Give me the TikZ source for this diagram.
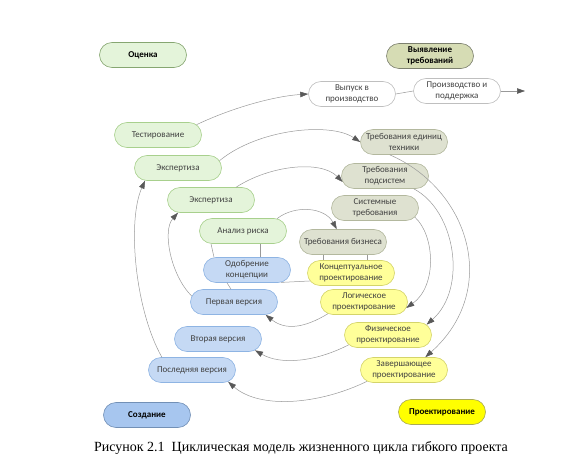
\documentclass[tikz,border=0pt]{standalone}
\usepackage{fontspec}
\setmainfont{Carlito}
\newfontfamily\capfont{Liberation Serif}
\usetikzlibrary{arrows.meta,shapes.misc}
\definecolor{grfill}{HTML}{E4F4DA}
\definecolor{grline}{HTML}{A8D08D}
\definecolor{olfill}{HTML}{DEE1D0}
\definecolor{olline}{HTML}{B3B89E}
\definecolor{olhead}{HTML}{D6DCB4}
\definecolor{blfill}{HTML}{C5D9F4}
\definecolor{blline}{HTML}{8EB4E3}
\definecolor{blhead}{HTML}{A7C6EF}
\definecolor{yefill}{HTML}{FFFF99}
\definecolor{yeline}{HTML}{D4D46A}
\definecolor{yehead}{HTML}{FFFF00}
\begin{document}
\begin{tikzpicture}[x=1pt,y=1pt, every node/.style={rounded rectangle,draw,line width=0.6pt,minimum width=90pt,minimum height=25pt,inner sep=1.5pt,align=center,font=\fontsize{9}{11}\selectfont,text=black!75},
  gr/.style={fill=grfill,draw=grline}, ol/.style={fill=olfill,draw=olline},
  bl/.style={fill=blfill,draw=blline}, ye/.style={fill=yefill,draw=yeline},
  wh/.style={fill=white,draw=black!25},
  head/.style={text=black,font=\fontsize{9}{11}\selectfont\bfseries},
  con/.style={draw=black!40,line width=0.5pt},
  arr/.style={con,-{Triangle[length=8pt,width=5.5pt,color=black!65]}}]
\useasboundingbox (0,0) rectangle (584,-460);
     \node[gr,head,draw=grline!80!black] (ev) at (143,-55) {Оценка};
     \node[ol,head,fill=olhead,draw=olline!70!black] (rq) at (430,-56) {Выявление\\требований};
     \node[bl,head,fill=blhead,draw=blline!80!black] (cr) at (147,-415) {Создание};
     \node[ye,head,fill=yehead,draw=yeline!80!black] (ds) at (442,-412) {Проектирование};
     \node[wh] (w1) at (352,-94) {Выпуск в\\производство};
     \node[wh] (w2) at (457,-91) {Производство и\\поддержка};
     \node[gr] (g1) at (158,-135) {Тестирование};
     \node[gr] (g2) at (178,-168) {Экспертиза};
     \node[gr] (g3) at (211,-200) {Экспертиза};
     \node[gr] (g4) at (243,-231) {Анализ риска};
     \node[ol] (o1) at (404,-142) {Требования единиц\\техники};
     \node[ol] (o2) at (385,-176) {Требования\\подсистем};
     \node[ol] (o3) at (375,-208) {Системные\\требования};
     \node[ol] (o4) at (343,-242) {Требования бизнеса};
     \node[ye] (y1) at (351,-273) {Концептуальное\\проектирование};
     \node[ye] (y2) at (364,-302) {Логическое\\проектирование};
     \node[ye] (y3) at (388,-335) {Физическое\\проектирование};
     \node[ye] (y4) at (404,-370) {Завершающее\\проектирование};
     \node[bl] (b1) at (247,-270) {Одобрение\\концепции};
     \node[bl] (b2) at (234,-302) {Первая версия};
     \node[bl] (b3) at (218,-339) {Вторая версия};
     \node[bl] (b4) at (192,-370) {Последняя версия};
     \node[draw=none,text=black,font=\capfont\fontsize{14}{16}\selectfont] (cap) at (301,-448) {Рисунок 2.1~ Циклическая модель жизненного цикла гибкого проекта};
     \coordinate (out) at (525,-91);
\draw[arr] (g1.15) .. controls +(38,18) and +(-32,-2) .. (w1.west);
\draw[con] (w1.east) -- (w2.west);
\draw[arr] (w2.east) -- (out);
\draw[arr] (g2.10) .. controls +(39,32) and +(-30,20) .. (o1.west);
\draw[arr] (g3.27) .. controls +(34,22) and +(-22,22) .. (o2.188);
\draw[arr] (g4.20) .. controls +(18,14) and +(-12,22) .. (o4.116);
\draw[arr] (o1.222) .. controls +(80,-35) and +(75,67) .. (y4.31);
\draw[arr] (o2.-24) .. controls +(42,-22) and +(41,36) .. (y3.15);
\draw[arr] (o3.-13) .. controls +(20,-18) and +(31,22) .. (y2.-8);
\draw[con] ([xshift=-20pt]o4.south) -- ([xshift=-28pt]y1.north);
\draw[con] ([xshift=24pt]o4.south) -- ([xshift=16pt]y1.north);
\draw[con] (y1.191) -- (b1.-20);
\draw[arr] (y2.198) .. controls +(-23,-14) and +(20,-16) .. (b2.-22);
\draw[arr] (y3.194) .. controls +(-33,-17) and +(26,-15) .. (b3.-17);
\draw[arr] (y4.197) .. controls +(-47,-23) and +(32,-28) .. (b4.-18);
\draw[con] ([xshift=-20pt]b1.south) -- ([xshift=-3pt]b2.north);
\draw[con] ([xshift=-33pt]b1.north) -- ([xshift=-32pt]g4.south);
\draw[con] ([xshift=13pt]b1.north) -- ([xshift=17pt]g4.south);
\draw[arr] (b2.172) .. controls +(-21,21) and +(-16,-18) .. (g3.201);
\draw[arr] (b4.157) .. controls +(-27,48) and +(-18,-40) .. (g2.201);
%\draw[arr] (b3.west) -- (g1.south);
\end{tikzpicture}
\end{document}
